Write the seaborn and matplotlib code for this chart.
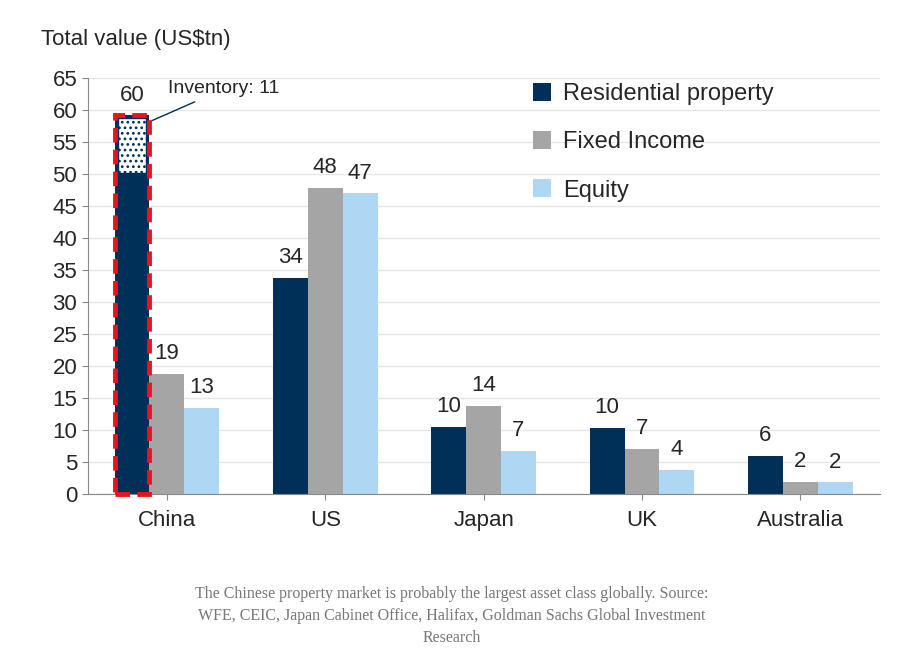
import matplotlib
matplotlib.use("Agg")
import matplotlib.pyplot as plt
import seaborn as sns
import pandas as pd
from matplotlib.patches import Rectangle

countries = ["China", "US", "Japan", "UK", "Australia"]
series = ["Residential property", "Fixed Income", "Equity"]
residential = [59.2, 33.8, 10.5, 10.3, 5.9]
fixed_income = [18.8, 47.9, 13.8, 7.0, 1.9]
equity = [13.4, 47.0, 6.7, 3.7, 1.8]
labels = [["60", "19", "13"], ["34", "48", "47"], ["10", "14", "7"], ["10", "7", "4"], ["6", "2", "2"]]
inventory_bottom = 50.2
colors = ["#003057", "#a5a5a5", "#aed7f3"]

rows = []
for i, c in enumerate(countries):
    for s, v in zip(series, [residential[i], fixed_income[i], equity[i]]):
        rows.append({"country": c, "series": s, "value": v})
df = pd.DataFrame(rows)

sns.set_style("white")
plt.rcParams["font.family"] = ["Liberation Sans", "DejaVu Sans"]
plt.rcParams["hatch.linewidth"] = 1.2
fig = plt.figure(figsize=(9.04, 6.69), dpi=100)
ax = fig.add_axes([0.097, 0.262, 0.876, 0.621])
sns.barplot(data=df, x="country", y="value", hue="series", palette=colors,
            width=0.66, gap=0, ax=ax, saturation=1, legend=True, linewidth=0)
ax.set_ylim(0, 65)
ax.set_yticks(range(0, 66, 5))
ax.yaxis.grid(True, color="#e6e6e6", lw=1)
ax.set_axisbelow(True)
for sp in ["top", "right"]:
    ax.spines[sp].set_visible(False)
ax.spines["left"].set_color("#888888")
ax.spines["bottom"].set_color("#888888")
ax.tick_params(axis="y", labelsize=16, left=True, length=4, color="#888888")
ax.tick_params(axis="x", labelsize=16, bottom=True, length=4, color="#888888", pad=8)
ax.set_xlabel("")
ax.set_ylabel("")

bars_by_series = ax.containers
for si, cont in enumerate(bars_by_series):
    for ci, b in enumerate(cont):
        ax.text(b.get_x() + b.get_width() / 2, b.get_height() + 1.5, labels[ci][si],
                ha="center", va="bottom", fontsize=16)

china = bars_by_series[0][0]
x0, w = china.get_x(), china.get_width()
ax.add_patch(Rectangle((x0 + 0.02, inventory_bottom), w - 0.04, residential[0] - inventory_bottom - 0.4,
                       facecolor="white", edgecolor="#003057", hatch="...", lw=1, zorder=3))
ax.add_patch(Rectangle((x0, 0), w, residential[0], fill=False, edgecolor="#e8141c",
                       ls=(0, (3, 1.5)), lw=3.5, zorder=4, clip_on=False))
ax.annotate("Inventory: 11", xy=(x0 + w, residential[0] - 1), xytext=(x0 + w + 0.12, 62),
            fontsize=14, va="bottom", arrowprops=dict(arrowstyle="-", color="#003057", lw=1))

leg = ax.legend(loc="upper left", bbox_to_anchor=(0.535, 1.04), frameon=False, fontsize=17,
                handlelength=0.8, handleheight=0.8, labelspacing=1.1, handletextpad=0.5)

fig.text(0.045, 0.932, "Total value (US$tn)", fontsize=16)
fig.text(0.5, 0.035, "The Chinese property market is probably the largest asset class globally. Source:\n"
         "WFE, CEIC, Japan Cabinet Office, Halifax, Goldman Sachs Global Investment\nResearch",
         ha="center", va="bottom", fontsize=11.5, color="#777777", family=["Liberation Serif", "DejaVu Serif"],
         linespacing=1.5)
fig.savefig("out.png", dpi=100)
